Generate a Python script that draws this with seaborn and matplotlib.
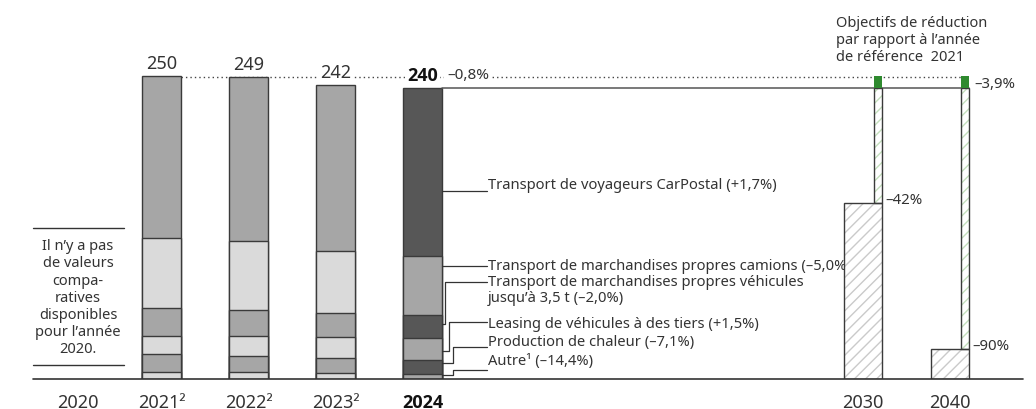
import numpy as np
import pandas as pd
import seaborn as sns
import matplotlib.pyplot as plt
from matplotlib import font_manager

# emissions per activity (bottom to top)
years = ["2021", "2022", "2023", "2024"]
autre = [5.5, 5.5, 4.6, 3.9]
chaleur = [14.9, 13.2, 12.4, 11.5]
leasing = [14.9, 16.5, 17.9, 18.2]
vehicules = [23.1, 21.5, 19.4, 19.0]
camions = [57.8, 56.9, 51.3, 48.7]
carpostal = [133.9, 135.4, 136.6, 138.9]

target_years = ["2030", "2040"]
target_pct = [-42, -90]

tick_labels = ["2020", "2021²", "2022²", "2023²", "2024", "2030", "2040"]

segment_texts = [
    "Autre¹ (–14,4%)",
    "Production de chaleur (–7,1%)",
    "Leasing de véhicules à des tiers (+1,5%)",
    "Transport de marchandises propres véhicules\njusqu’à 3,5 t (–2,0%)",
    "Transport de marchandises propres camions (–5,0%)",
    "Transport de voyageurs CarPostal (+1,7%)",
]

sns.set_theme(style="white")
plt.rcParams["font.family"] = ["Noto Sans", "DejaVu Sans"]
plt.rcParams["hatch.linewidth"] = 1.0

# pick a family that really has a bold face
bold_names = {f.name for f in font_manager.fontManager.ttflist
              if f.weight in (600, 700, 800, "bold", "semibold")}
bold_family = next((n for n in ["Noto Sans", "Open Sans", "Lato", "Roboto", "Inter"]
                    if n in bold_names), "DejaVu Sans")

DARK, MID, LIGHT = "#575757", "#a6a6a6", "#dadada"
EDGE = "#3a3a3a"
TXT = "#333333"

fig = plt.figure(figsize=(10.36, 4.10), dpi=100)
ax = fig.add_axes([0, 30 / 410, 1, 363.6 / 410])

pos = [1.0, 2.0, 3.0, 4.0]
bw = 0.437
segs = np.array([autre, chaleur, leasing, vehicules, camions, carpostal])
cum = np.cumsum(segs, axis=0)
totals = cum[-1]

# stacked bars: draw cumulative totals from the top level down
for k in range(len(segs) - 1, -1, -1):
    df = pd.DataFrame({"pos": pos, "cum": cum[k], "year": years})
    if k % 2 == 1:
        pal = {"2021": MID, "2022": MID, "2023": MID, "2024": DARK}
    else:
        pal = {"2021": LIGHT, "2022": LIGHT, "2023": LIGHT, "2024": MID}
    sns.barplot(data=df, x="pos", y="cum", hue="year", palette=pal,
                native_scale=True, width=bw, dodge=False, legend=False,
                errorbar=None, edgecolor=EDGE, linewidth=1, saturation=1,
                ax=ax, zorder=2)

# target bars (hatched)
ref = totals[0]
tpos = [9.063, 10.063]
tvals = [ref * (1 + p / 100) for p in target_pct]
ax.bar(tpos, tvals, width=bw, color="white", edgecolor="#cacaca",
       hatch="///", linewidth=0, zorder=4)
ax.bar(tpos, tvals, width=bw, fill=False, edgecolor=EDGE, linewidth=1, zorder=5)

# thin green bars from target up to reference
gpos = [p + bw / 2 - 0.046 for p in tpos]
cur = totals[-1]
ax.bar(gpos, [cur - v for v in tvals], bottom=tvals, width=0.092,
       color="white", edgecolor="#c4dfbd", hatch="///", linewidth=0, zorder=4)
ax.bar(gpos, [cur - v for v in tvals], bottom=tvals, width=0.092,
       fill=False, edgecolor=EDGE, linewidth=1, zorder=5)
ax.bar(gpos, [ref - cur] * 2, bottom=cur, width=0.092, color="#2f8a2f",
       linewidth=0, zorder=5)

# reference dotted line and current solid line
ax.plot([pos[0] + bw / 2, gpos[1] - 0.046], [ref - 0.8] * 2, ls=(0, (1, 2.2)),
        color="#444444", lw=1, zorder=1)
ax.plot([pos[3] + bw / 2, gpos[1] + 0.046], [cur] * 2, color="#555555",
        lw=1.1, zorder=3)

# total labels
for i, (p, t) in enumerate(zip(pos, totals)):
    bold = i == len(pos) - 1
    bg = dict(facecolor="white", edgecolor="none", pad=1.5) if i >= 2 else None
    ax.annotate(f"{t:.0f}", (p, t), xytext=(0, 9.5), textcoords="offset points",
                ha="center", va="center", fontsize=13,
                color="#111111" if bold else TXT,
                family=[bold_family, "DejaVu Sans"] if bold else None,
                fontweight="bold" if bold else "normal", bbox=bg, zorder=6)
ax.annotate("–0,8%", (pos[3] + bw / 2, totals[-1]), xytext=(4, 9.5),
            textcoords="offset points", ha="left", va="center", fontsize=11,
            color=TXT, bbox=dict(facecolor="white", edgecolor="none", pad=2),
            zorder=6)

# leader lines + segment labels for 2024
tx = 4.745
x0 = pos[3] + bw / 2
leaders = [  # anchor y, knee x, leader y, text y
    (3.3, 4.35, 7.7, 15.1),
    (13.2, 4.35, 26.2, 30.8),
    (23.3, 4.31, 46.8, 46.2),
    (45.4, 4.26, 80.0, 73.6),
    (93.6, None, 93.6, 94.0),
    (155.1, None, 155.1, 160.1),
]
for (ay, kx, ly, ty), label in zip(leaders, segment_texts):
    if kx is None:
        ax.plot([x0, tx], [ay, ay], color=TXT, lw=0.9, zorder=3)
    else:
        ax.plot([x0, kx, kx, tx], [ay, ay, ly, ly], color=TXT, lw=0.9, zorder=3)
    ax.text(tx + 0.01, ty, label, ha="left", va="center", fontsize=10.6,
            color=TXT, linespacing=1.12, zorder=3)

# target annotations
ax.text(tpos[0] + bw / 2 + 0.04, tvals[0] + 3, "–42%", ha="left", va="center",
        fontsize=10.8, color=TXT)
ax.text(tpos[1] + bw / 2 + 0.04, tvals[1] + 3, "–90%", ha="left", va="center",
        fontsize=10.8, color=TXT)
ax.text(tpos[1] + bw / 2 + 0.06, cur + 4, "–3,9%", ha="left", va="center",
        fontsize=10.8, color=TXT)
ax.text(8.75, 280, "Objectifs de réduction\npar rapport à l’année\nde référence  2021",
        ha="left", va="center", fontsize=10.5, color=TXT, linespacing=1.2,
        clip_on=False)

# 2020 note
ax.plot([-0.477, 0.569], [124.6, 124.6], color=TXT, lw=1)
ax.plot([-0.477, 0.569], [11.6, 11.6], color=TXT, lw=1)
ax.text(0.04, 67.4, "Il n’y a pas\nde valeurs\ncompa-\nratives\ndisponibles\npour l’année\n2020.",
        ha="center", va="center", fontsize=10.5, color=TXT, linespacing=1.2)

# baseline
ax.plot([-0.477, 10.907], [0, 0], color=TXT, lw=1.2, clip_on=False, zorder=6)

ax.set_xlim(-74.5 / 87, (1036 - 74.5) / 87)
ax.set_ylim(0, 300)
ax.set_xticks([0.04] + pos + tpos)
ax.set_xticklabels(tick_labels, fontsize=13, color=TXT)
lbl24 = ax.get_xticklabels()[4]
lbl24.set_fontweight("bold")
lbl24.set_family([bold_family, "DejaVu Sans"])
lbl24.set_color("#111111")
ax.tick_params(axis="x", length=0, pad=10)
ax.set_yticks([])
ax.set_xlabel("")
ax.set_ylabel("")
for s in ax.spines.values():
    s.set_visible(False)
ax.patch.set_alpha(0)

fig.savefig("out.png", dpi=100)
